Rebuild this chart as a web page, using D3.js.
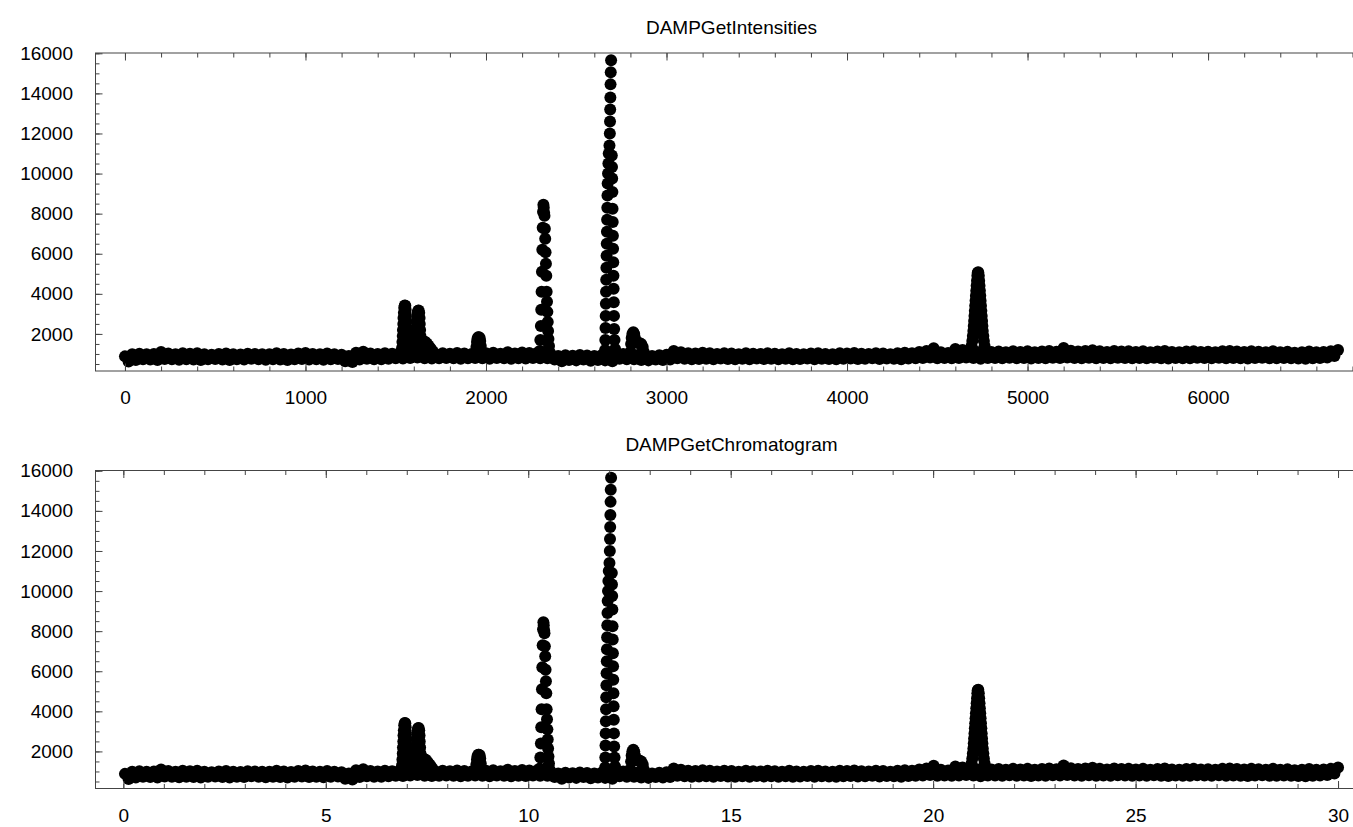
<!DOCTYPE html>
<html>
<head>
<meta charset="utf-8">
<script src="https://cdn.jsdelivr.net/npm/d3@7"></script>
<style>
  body { margin: 0; background: #fff; }
  text { font-family: "Liberation Sans", Arial, sans-serif; }
</style>
</head>
<body>
<script>
// noise band, upper edge: scans 0, 40, 80 ... 6720
const upperBand = [
  880, 990, 1010, 980, 1000, 1100, 1020, 990, 1040, 1010,
  1030, 990, 960, 1000, 1020, 990, 970, 1010, 1000, 980,
  990, 1030, 1000, 970, 1020, 1050, 1000, 990, 1020, 990,
  960, 900, 1060, 1110, 1020, 1000, 1030, 1010, 1040, 1060,
  1050, 1080, 1030, 1000, 1040, 1010, 1050, 1020, 1000, 1040,
  1030, 1060, 1010, 1090, 1020, 1070, 1050, 1040, 1060, 960,
  900, 930, 910, 950, 920, 900, 940, 1000, 1050, 1000,
  1000, 950, 920, 900, 940, 960, 1150, 1080, 1040, 1020,
  1060, 1030, 1000, 1040, 1020, 990, 1030, 1010, 1000, 1040,
  1010, 990, 1030, 1000, 980, 1020, 1040, 1000, 990, 1030,
  1020, 1050, 1010, 1000, 1040, 1020, 990, 1030, 1060, 1040,
  1100, 1150, 1280, 1080, 1050, 1250, 1200, 1150, 1100, 1050,
  1100, 1120, 1080, 1130, 1100, 1140, 1090, 1120, 1150, 1110,
  1300, 1160, 1120, 1150, 1180, 1130, 1100, 1150, 1120, 1140,
  1100, 1130, 1090, 1120, 1150, 1100, 1080, 1120, 1140, 1100,
  1110, 1080, 1130, 1150, 1120, 1100, 1140, 1110, 1090, 1130,
  1080, 1110, 1060, 1090, 1120, 1080, 1100, 1140, 1200
];
// noise band, lower edge: scans 20, 60, 100 ... 6700
const lowerBand = [
  620, 700, 740, 720, 700, 750, 730, 710, 740, 720,
  700, 730, 750, 720, 700, 740, 720, 760, 730, 710,
  740, 720, 700, 730, 750, 720, 740, 710, 730, 750,
  640, 600, 720, 760, 740, 730, 760, 780, 770, 800,
  820, 780, 770, 790, 800, 780, 760, 790, 800, 780,
  760, 800, 780, 760, 790, 770, 800, 790, 780, 720,
  640, 700, 680, 720, 660, 700, 680, 640, 760, 740,
  740, 700, 680, 720, 700, 720, 780, 760, 740, 750,
  760, 740, 770, 750, 730, 760, 740, 770, 750, 760,
  740, 760, 730, 750, 770, 740, 760, 750, 730, 760,
  770, 750, 760, 780, 750, 770, 760, 740, 770, 780,
  800, 820, 790, 800, 780, 800, 820, 800, 760, 800,
  800, 780, 810, 790, 800, 770, 800, 790, 810, 800,
  820, 800, 790, 810, 780, 800, 790, 810, 800, 790,
  800, 780, 810, 790, 770, 800, 790, 780, 810, 800,
  790, 810, 780, 800, 790, 770, 800, 810, 790, 780,
  800, 790, 770, 760, 790, 800, 820, 900
];
const bandStep = 40;
const lowerOffset = 20;

// peaks as [scan, intensity]
const peak1551 = [[1533,1050],[1535,1300],[1537,1600],[1539,1900],[1540,2200],[1542,2500],[1543,2800],[1545,3050],[1547,3300],[1550,3420],[1553,3400],[1555,3200],[1556,2950],[1558,2650],[1559,2350],[1561,2050],[1562,1750],[1564,1450],[1566,1200]];
const peak1625 = [[1607,1100],[1609,1400],[1611,1700],[1612,2000],[1614,2300],[1616,2600],[1618,2850],[1621,3050],[1624,3150],[1627,3170],[1630,3050],[1632,2800],[1633,2500],[1635,2200],[1637,1900],[1640,1700],[1648,1660],[1656,1620],[1664,1600],[1672,1520],[1680,1420],[1688,1330],[1696,1230],[1705,1120]];
const peak1961 = [[1944,1100],[1947,1350],[1950,1600],[1953,1760],[1957,1830],[1961,1840],[1965,1800],[1968,1650],[1971,1400],[1974,1150]];
const peak2314 = [[2298,1150],[2301,1700],[2304,2400],[2306,3200],[2308,4100],[2310,5100],[2312,6200],[2314,7300],[2316,8100],[2318,8450],[2320,8300],[2322,8050],[2324,7900],[2326,7250],[2328,6750],[2330,6080],[2332,5500],[2334,4900],[2336,4100],[2338,3600],[2340,3100],[2342,2600],[2344,2150],[2346,1750],[2349,1400],[2352,1100]];
const peak2690 = [[2660,1200],[2661,1700],[2662,2300],[2663,2900],[2664,3500],[2665,4100],[2666,4700],[2667,5300],[2668,5900],[2669,6500],[2670,7100],[2671,7700],[2672,8300],[2673,8900],[2674,9500],[2676,10000],[2678,10500],[2680,11000],
  [2684,11400],[2686,12000],[2687,12600],[2688,13200],[2689,13800],[2690,14450],[2691,15050],[2693,15650],
  [2697,10900],[2698,10330],[2699,9750],[2700,9080],[2701,8250],[2702,7580],[2703,6900],[2704,6250],[2705,5580],[2706,4900],[2707,4250],[2708,3580],[2709,2900],[2710,2250],[2712,1700],[2715,1250]];
const peak2816 = [[2800,1100],[2804,1500],[2807,1800],[2811,2000],[2816,2080],[2821,2000],[2825,1800],[2830,1600],[2840,1550],[2850,1550],[2860,1500],[2868,1350],[2874,1100]];
const peak4722 = [[4686,1150],[4690,1400],[4694,1650],[4697,1900],[4700,2150],[4702,2400],[4704,2650],[4706,2900],[4708,3150],[4710,3400],[4712,3650],[4714,3900],[4716,4150],[4718,4400],[4720,4650],[4722,4900],[4724,5050],[4727,5080],
  [4730,4900],[4732,4650],[4734,4400],[4736,4150],[4738,3900],[4740,3650],[4742,3400],[4744,3150],[4746,2900],[4748,2650],[4750,2400],[4752,2150],[4755,1900],[4758,1650],[4762,1400],[4767,1200]];

// scan range and the matching retention times (minutes)
const lastScan = 6720;
const firstRt = 0.04, lastRt = 30.0;

const points = [];
upperBand.forEach((v, i) => points.push([i * bandStep, v]));
lowerBand.forEach((v, i) => points.push([lowerOffset + i * bandStep, v]));
[peak1551, peak1625, peak1961, peak2314, peak2690, peak2816, peak4722]
  .forEach(p => p.forEach(d => points.push(d)));

const width = 1353, height = 827;
const left = 95, right = 1368, plotH = 318;

const rt = d3.scaleLinear().domain([0, lastScan]).range([firstRt, lastRt]);

const panels = [
  {title: "DAMPGetIntensities", top: 53, xDomain: [-166, 6886], xMajor: 1000, xMinor: 200, xOf: d => d[0]},
  {title: "DAMPGetChromatogram", top: 470.5, xDomain: [-0.7, 30.74], xMajor: 5, xMinor: 1, xOf: d => rt(d[0])}
];

const svg = d3.select("body").append("svg")
  .attr("width", width)
  .attr("height", height);

svg.append("rect").attr("width", width).attr("height", height).attr("fill", "#fff");

const frameColor = "#444";
const fontSize = 19;

panels.forEach(p => {
  const x = d3.scaleLinear().domain(p.xDomain).range([left, right]);
  const y = d3.scaleLinear().domain([150, 16015]).range([p.top + plotH, p.top]);

  const xMaj = d3.range(0, p.xDomain[1], p.xMajor);
  const xMin = d3.range(0, p.xDomain[1], p.xMinor);
  const yMaj = d3.range(2000, 16001, 2000);
  const yMin = d3.range(500, 16001, 500);

  const g = svg.append("g");

  // points
  g.selectAll("circle")
    .data(points)
    .join("circle")
    .attr("cx", d => x(p.xOf(d)))
    .attr("cy", d => y(d[1]))
    .attr("r", 6)
    .attr("fill", "#000");

  const axes = [
    [d3.axisBottom(x).tickValues(xMin).tickSize(-4.5).tickFormat(""), `translate(0,${p.top + plotH})`],
    [d3.axisBottom(x).tickValues(xMaj).tickSize(-7.5).tickPadding(20).tickFormat(d3.format("d")), `translate(0,${p.top + plotH})`],
    [d3.axisTop(x).tickValues(xMin).tickSize(-4.5).tickFormat(""), `translate(0,${p.top})`],
    [d3.axisTop(x).tickValues(xMaj).tickSize(-7.5).tickFormat(""), `translate(0,${p.top})`],
    [d3.axisLeft(y).tickValues(yMin).tickSize(-4.5).tickFormat(""), `translate(${left},0)`],
    [d3.axisLeft(y).tickValues(yMaj).tickSize(-7.5).tickPadding(22).tickFormat(d3.format("d")), `translate(${left},0)`],
    [d3.axisRight(y).tickValues(yMin).tickSize(-4.5).tickFormat(""), `translate(${right},0)`],
    [d3.axisRight(y).tickValues(yMaj).tickSize(-7.5).tickFormat(""), `translate(${right},0)`]
  ];
  axes.forEach(([ax, tr]) => {
    const a = g.append("g").attr("transform", tr).call(ax.tickSizeOuter(0));
    a.select(".domain").remove();
    a.selectAll("line").attr("stroke", frameColor);
    a.selectAll("text").attr("fill", "#000").style("font-size", fontSize + "px")
      .attr("font-family", null);
  });

  g.append("rect")
    .attr("x", left + 0.5).attr("y", p.top)
    .attr("width", right - left).attr("height", plotH)
    .attr("fill", "none")
    .attr("stroke", frameColor)
    .attr("stroke-width", 1);

  g.append("text")
    .attr("x", (left + right) / 2)
    .attr("y", p.top - 19.5)
    .attr("text-anchor", "middle")
    .style("font-size", fontSize + "px")
    .text(p.title);
});
</script>
</body>
</html>
